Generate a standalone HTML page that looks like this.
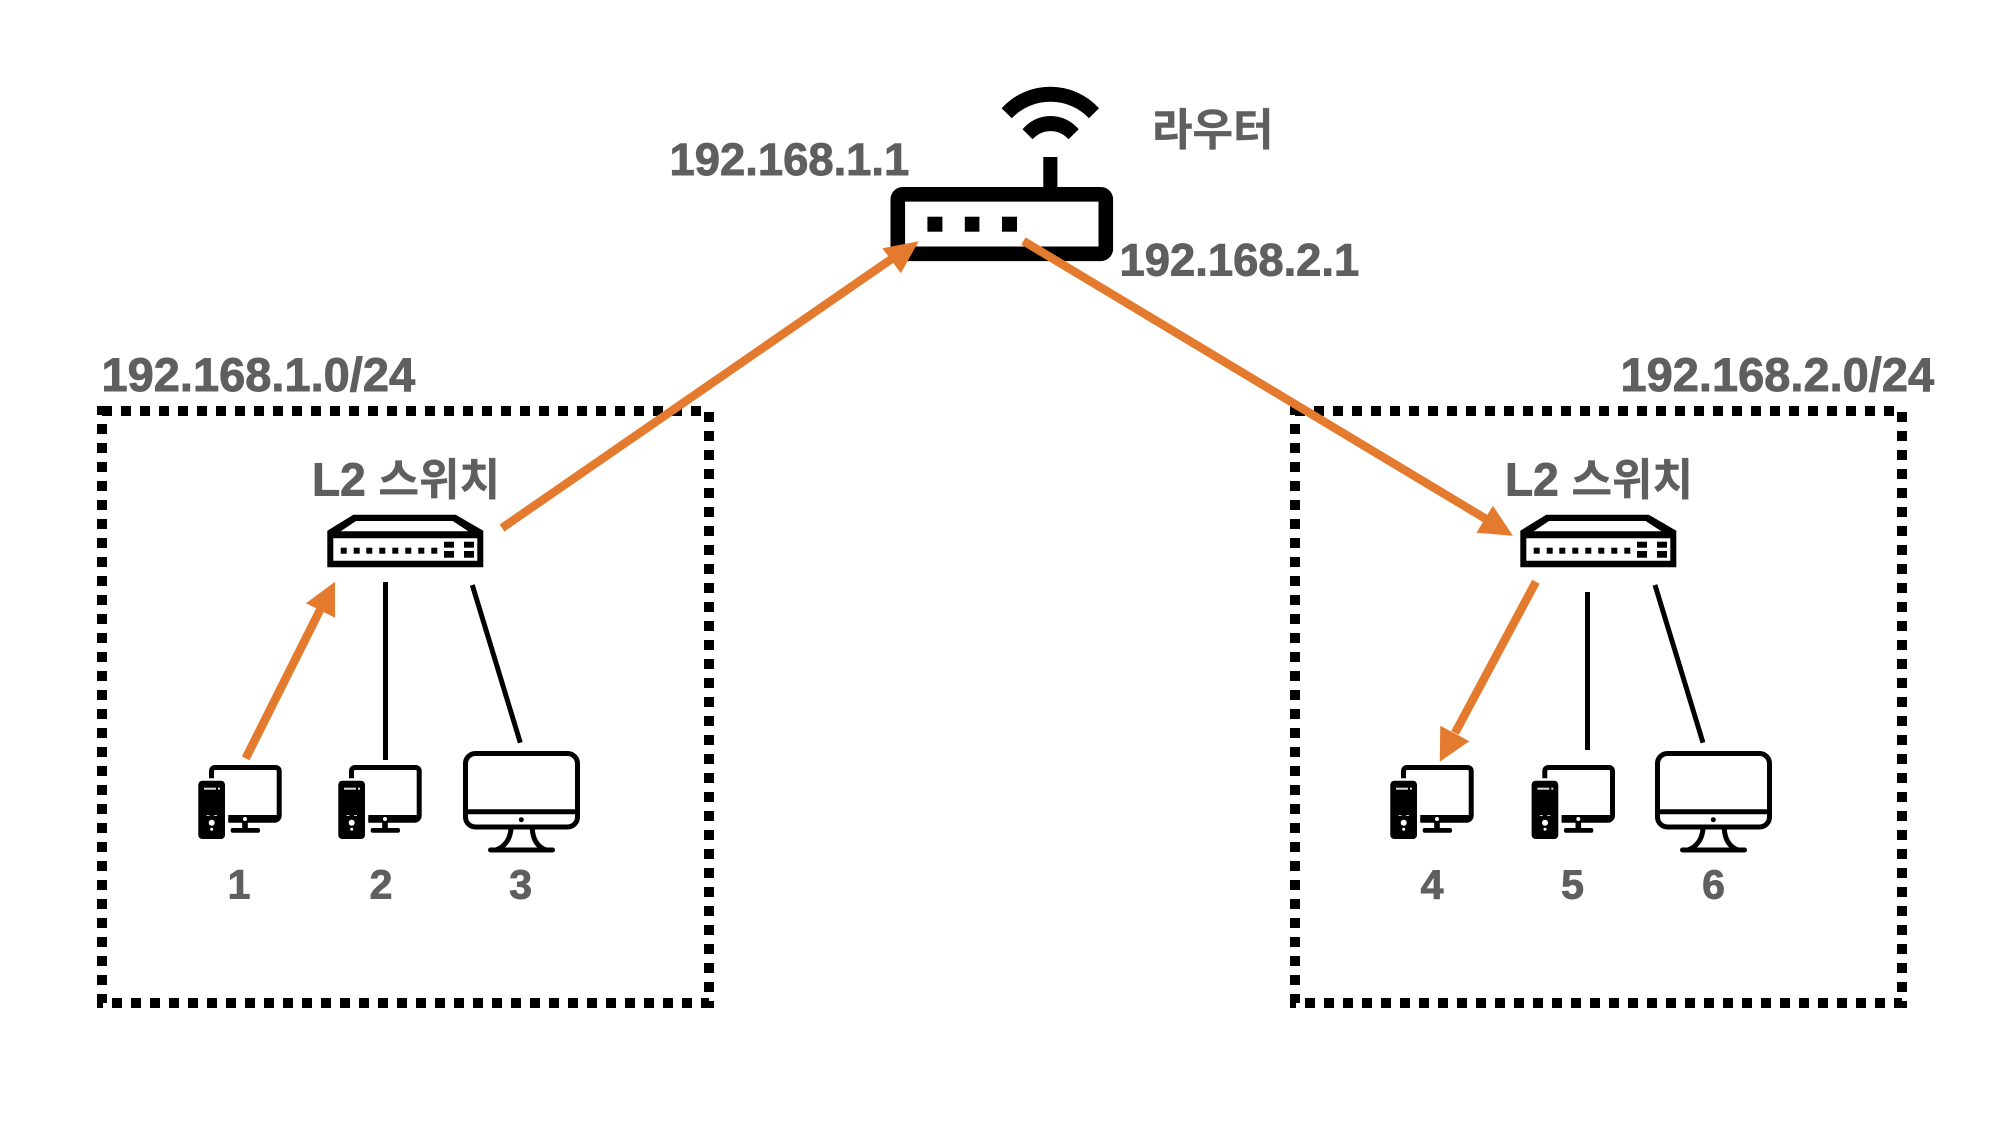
<!DOCTYPE html>
<html lang="ko">
<head>
<meta charset="utf-8">
<title>Network diagram</title>
<style>
html,body{margin:0;padding:0;background:#fff;width:2000px;height:1130px;overflow:hidden}
svg{display:block}
text{font-family:"Liberation Sans","Noto Sans CJK KR",sans-serif;font-weight:700;fill:#5f5f5f;stroke:#5f5f5f;stroke-width:.9px}
.k{font-family:"Noto Sans CJK KR","Liberation Sans",sans-serif;font-size:44px;stroke-width:.4px}
.ip{font-size:45.4px}
.net{font-size:47px}
.n{font-size:41px;text-anchor:middle}
.l{font-size:46px}
</style>
</head>
<body>
<svg width="2000" height="1130" viewBox="0 0 2000 1130" xmlns="http://www.w3.org/2000/svg">
<defs>
  <g id="pc">
    <path d="M211.5 778.3V771a3.5 3.5 0 0 1 3.5-3.5H275.7a3.5 3.5 0 0 1 3.5 3.5V815.5a4.7 4.7 0 0 1-4.7 4.7H228.3" fill="none" stroke="#000" stroke-width="5"/>
    <rect x="228.3" y="815" width="50" height="6" fill="#000"/>
    <rect x="242.2" y="820" width="5.6" height="10" fill="#000"/>
    <circle cx="245" cy="819" r="2" fill="#fff"/>
    <rect x="230.7" y="828" width="29.3" height="4.7" rx="2" fill="#000"/>
    <rect x="198.3" y="780.7" width="26.7" height="58.3" rx="4" fill="#000"/>
    <rect x="204" y="787.7" width="12" height="2" fill="#ddd"/>
    <rect x="218" y="787.7" width="2" height="2" fill="#ddd"/>
    <rect x="206.5" y="815" width="3" height="1" fill="#ccc"/>
    <rect x="214" y="815" width="3" height="1" fill="#ccc"/>
    <circle cx="211.7" cy="822.7" r="3" fill="#fff"/>
    <circle cx="211.7" cy="829.3" r="1.5" fill="#fff"/>
  </g>
  <g id="imac" fill="none" stroke="#000" stroke-width="5">
    <rect x="465.5" y="753.5" width="112" height="73.5" rx="10"/>
    <path d="M465.5 811.7H577.5"/>
    <path d="M511 829C510 840 504 847 496 850M532.3 829C533 840 538 847 546 850"/>
    <path d="M490.5 850H552.5" stroke-linecap="round"/>
    <circle cx="521.3" cy="819.7" r="2.5" fill="#000" stroke="none"/>
  </g>
  <g id="sw">
    <path fill="#000" fill-rule="evenodd" d="M353.3 514.7H455.7L483.3 530.7V567.3H327.3V530.7ZM356 521L340.7 531.3H468.3L452.7 521ZM333.3 538.3V560.7H477.3V538.3Z"/>
    <g fill="#000">
      <rect x="340.7" y="547.7" width="6" height="6"/><rect x="353.7" y="547.7" width="6" height="6"/>
      <rect x="366.3" y="547.7" width="6" height="6"/><rect x="379.3" y="547.7" width="6" height="6"/>
      <rect x="392.3" y="547.7" width="6" height="6"/><rect x="405.3" y="547.7" width="6" height="6"/>
      <rect x="418.3" y="547.7" width="6" height="6"/><rect x="431.3" y="547.7" width="6" height="6"/>
      <rect x="444" y="541.7" width="10" height="6"/><rect x="464" y="541.7" width="10" height="6"/>
      <rect x="444" y="551" width="10" height="6.7"/><rect x="464" y="551" width="10" height="6.7"/>
    </g>
  </g>
</defs>

<!-- Subnet boxes -->
<rect x="102" y="411" width="607" height="592" fill="none" stroke="#000" stroke-width="10" stroke-dasharray="10 9"/>
<rect x="1295" y="411" width="607" height="592" fill="none" stroke="#000" stroke-width="10" stroke-dasharray="10 9"/>

<!-- Router -->
<rect x="897.8" y="194.3" width="208" height="59.5" rx="5" fill="#fff" stroke="#000" stroke-width="14.6"/>
<rect x="927.4" y="216.7" width="15" height="15" fill="#000"/>
<rect x="964.8" y="216.7" width="14.6" height="15" fill="#000"/>
<rect x="1002" y="216.7" width="15" height="15" fill="#000"/>
<rect x="1043.3" y="157" width="14.1" height="31" fill="#000"/>
<path fill="#000" d="M1001.6 108.3A65.7 65.7 0 0 1 1099 108.3L1089 118.3A53.2 53.2 0 0 0 1011.8 118.3Z"/>
<path fill="#000" d="M1022.5 129.3A36.4 36.4 0 0 1 1078.7 129.3L1068.5 139.3A23.7 23.7 0 0 0 1032.6 139.3Z"/>

<!-- Switches -->
<use href="#sw"/>
<use href="#sw" x="1193"/>

<!-- Hosts -->
<use href="#pc"/>
<use href="#pc" x="140"/>
<use href="#imac"/>
<use href="#pc" x="1192"/>
<use href="#pc" x="1333.3"/>
<use href="#imac" x="1192"/>

<!-- Black links -->
<g stroke="#000" stroke-width="5" fill="none">
  <path d="M385.5 582V760"/>
  <path d="M472.3 585L520.3 742.7"/>
  <path d="M1587.5 592V750"/>
  <path d="M1655 585L1703 742.7"/>
</g>

<!-- Orange arrows -->
<g stroke="#e47a2e" stroke-width="8.5" fill="none">
  <path d="M502 528L893 258"/>
  <path d="M1023.4 241L1486 519"/>
  <path d="M245.7 758.3L320 610"/>
  <path d="M1535.9 581.7L1455 733"/>
</g>
<g fill="#e47a2e">
  <path d="M918.7 241.3L882.4 248.3L900.8 273.3Z"/>
  <path d="M1512.9 535.7L1492.9 505.7L1476.4 532.7Z"/>
  <path d="M335 581.7L306 603.3L335 617.7Z"/>
  <path d="M1439.7 761.7L1469.3 741.3L1440.3 725.7Z"/>
</g>

<!-- Labels -->
<text class="ip" x="669.5" y="175">192.168.1.1</text>
<text class="ip" x="1119.5" y="275.5">192.168.2.1</text>
<text class="k" x="1152" y="145">라우터</text>
<text class="net" x="101.5" y="391">192.168.1.0/24</text>
<text class="net" x="1620.5" y="391">192.168.2.0/24</text>

<text class="l" x="312" y="495.3">L2</text>
<text class="k" x="378.5" y="495">스위치</text>
<text class="l" x="1505" y="495.3">L2</text>
<text class="k" x="1571.5" y="495">스위치</text>

<text class="n" x="239" y="898.5">1</text>
<text class="n" x="381" y="898.5">2</text>
<text class="n" x="520.7" y="898.5">3</text>
<text class="n" x="1432" y="898.5">4</text>
<text class="n" x="1572.5" y="898.5">5</text>
<text class="n" x="1713.5" y="898.5">6</text>
</svg>
</body>
</html>
